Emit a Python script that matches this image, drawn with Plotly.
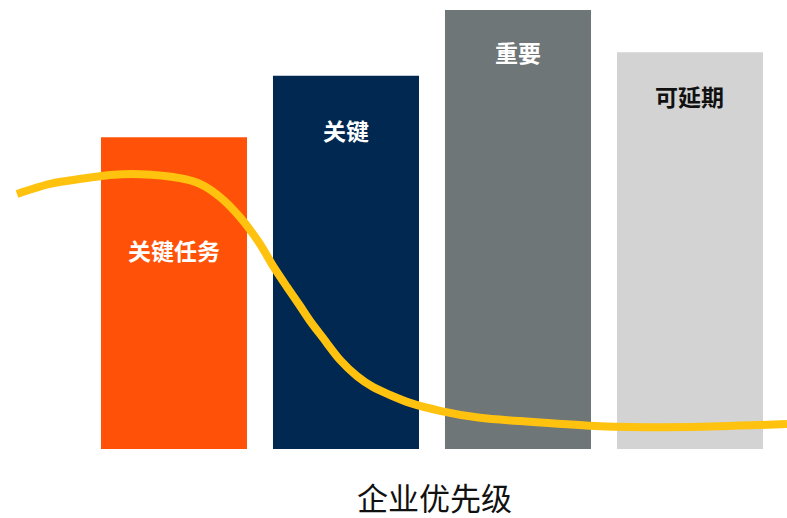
import plotly.graph_objects as go

categories = ["关键任务", "关键", "重要", "可延期"]
bar_x = [1, 2, 3, 4]
bar_values = [71, 85, 100, 90.4]
bar_colors = ["#FF5208", "#002850", "#6E7677", "#D3D3D3"]
label_colors = ["#FFFFFF", "#FFFFFF", "#FFFFFF", "#111111"]
label_y = [45.3, 72.7, 90.4, 80.4]
axis_title = "企业优先级"

curve_x = [0.0872, 0.2791, 0.4535, 0.6279, 0.8023, 1.0349, 1.1512, 1.2674,
           1.3837, 1.5000, 1.5756, 1.6570, 1.7326, 1.7907, 1.8663, 1.9651,
           2.0640, 2.1570, 2.2558, 2.3721, 2.5465, 2.7791, 3.0698, 3.4767,
           4.0000, 4.5640]
curve_y = [58.1, 60.4, 61.5, 62.4, 62.6, 61.7, 60.4, 57.4,
           52.8, 46.7, 41.7, 36.9, 32.6, 29.2, 25.3, 20.3,
           16.6, 14.1, 12.3, 10.5, 8.7, 7.1, 6.2, 5.2,
           5.0, 5.7]

fig = go.Figure()
fig.add_trace(go.Bar(
    x=bar_x, y=bar_values, width=0.849,
    marker=dict(color=bar_colors, line=dict(width=0)),
    hoverinfo="skip", showlegend=False,
))
fig.add_trace(go.Scatter(
    x=curve_x, y=curve_y, mode="lines",
    line=dict(color="#FFC20E", width=8, shape="spline", smoothing=0.8),
    hoverinfo="skip", showlegend=False,
))
for xi, yi, txt, col in zip(bar_x, label_y, categories, label_colors):
    fig.add_annotation(x=xi, y=yi, text="<b>" + txt + "</b>", showarrow=False,
                       font=dict(size=23, color=col,
                                 family="Noto Sans CJK SC, sans-serif"))

fig.add_annotation(x=0.5515, y=-0.1047, xref="paper", yref="paper",
                   text=axis_title, showarrow=False, xanchor="center",
                   yanchor="middle",
                   font=dict(size=31, color="#111111",
                             family="Noto Sans CJK SC, sans-serif"))

fig.update_layout(
    width=787, height=518,
    margin=dict(l=0, r=0, t=0, b=69),
    paper_bgcolor="white", plot_bgcolor="white",
    xaxis=dict(range=[-0.0116, 4.564], showgrid=False, zeroline=False,
               showticklabels=False, ticks=""),
    yaxis=dict(range=[0, 102.28], showgrid=False, zeroline=False,
               showticklabels=False, ticks=""),
)
fig.write_html("out.html")
